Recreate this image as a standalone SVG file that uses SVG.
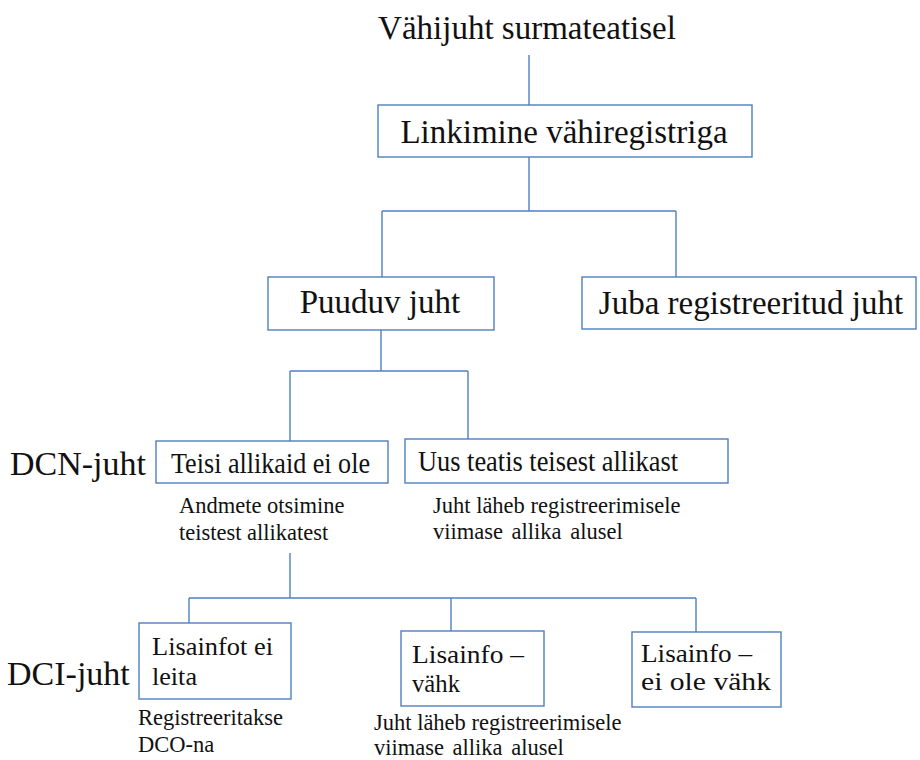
<svg xmlns="http://www.w3.org/2000/svg" width="920" height="760" viewBox="0 0 920 760">
<style>
.box{fill:#ffffff;stroke:#4f7fc1;stroke-width:1.4}
.con line{stroke:#4f7fc1;stroke-width:1.4}
text{font-family:"Liberation Serif","Times New Roman",serif;fill:#111111}
.big{font-size:33px}
.lbl{font-size:34px}
.bx{font-size:29px}
.bx2{font-size:26px}
.note{font-size:22.5px}
</style>
<rect width="920" height="760" fill="#ffffff"/>
<g id="connectors" class="con">
<line x1="529" y1="55" x2="529" y2="105"/>
<line x1="529" y1="157" x2="529" y2="211"/>
<line x1="382" y1="211" x2="676" y2="211"/>
<line x1="382" y1="211" x2="382" y2="277"/>
<line x1="676" y1="211" x2="676" y2="277"/>
<line x1="381" y1="330" x2="381" y2="371"/>
<line x1="290" y1="371" x2="468" y2="371"/>
<line x1="290" y1="371" x2="290" y2="441"/>
<line x1="468" y1="371" x2="468" y2="439"/>
<line x1="290" y1="553" x2="290" y2="598"/>
<line x1="189" y1="598" x2="696" y2="598"/>
<line x1="189" y1="598" x2="189" y2="623"/>
<line x1="451" y1="598" x2="451" y2="631"/>
<line x1="696" y1="598" x2="696" y2="632"/>
</g>
<g id="title">
<text class="big" x="527" y="39" text-anchor="middle">Vähijuht surmateatisel</text>
</g>
<g id="linkimine">
<rect class="box" x="378" y="105" width="374" height="52"/>
<text class="big" x="564" y="143" text-anchor="middle">Linkimine vähiregistriga</text>
</g>
<g id="puuduv">
<rect class="box" x="268" y="277" width="226" height="53"/>
<text class="big" x="380" y="313" text-anchor="middle">Puuduv juht</text>
</g>
<g id="juba">
<rect class="box" x="582" y="277" width="334" height="52"/>
<text class="big" x="751" y="314" text-anchor="middle">Juba registreeritud juht</text>
</g>
<g id="dcn-label">
<text class="lbl" x="10" y="475">DCN-juht</text>
</g>
<g id="teisi">
<rect class="box" x="156" y="441" width="232" height="42"/>
<text class="bx" x="171" y="473" textLength="199" lengthAdjust="spacingAndGlyphs">Teisi allikaid ei ole</text>
<text class="note" x="179" y="513">Andmete otsimine</text>
<text class="note" x="179" y="540">teistest allikatest</text>
</g>
<g id="uus">
<rect class="box" x="405" y="439" width="323" height="44"/>
<text class="bx" x="418" y="471" textLength="260" lengthAdjust="spacingAndGlyphs">Uus teatis teisest allikast</text>
<text class="note" x="433" y="513">Juht läheb registreerimisele</text>
<text class="note" x="433" y="539" word-spacing="3">viimase allika alusel</text>
</g>
<g id="dci-label">
<text class="lbl" x="7" y="685">DCI-juht</text>
</g>
<g id="lisainfot">
<rect class="box" x="139" y="623" width="152" height="76"/>
<text class="bx2" x="152" y="655" textLength="121" lengthAdjust="spacingAndGlyphs">Lisainfot ei</text>
<text class="bx2" x="152" y="685" textLength="45" lengthAdjust="spacingAndGlyphs">leita</text>
<text class="note" x="138" y="725">Registreeritakse</text>
<text class="note" x="138" y="752">DCO-na</text>
</g>
<g id="lisainfo-vahk">
<rect class="box" x="401" y="631" width="143" height="75"/>
<text class="bx2" x="412" y="663" textLength="112" lengthAdjust="spacingAndGlyphs">Lisainfo –</text>
<text class="bx2" x="412" y="692" textLength="48" lengthAdjust="spacingAndGlyphs">vähk</text>
<text class="note" x="374" y="730">Juht läheb registreerimisele</text>
<text class="note" x="374" y="755" word-spacing="3">viimase allika alusel</text>
</g>
<g id="lisainfo-ei-ole">
<rect class="box" x="632" y="632" width="149" height="75"/>
<text class="bx2" x="641" y="662" textLength="111" lengthAdjust="spacingAndGlyphs">Lisainfo –</text>
<text class="bx2" x="641" y="690" textLength="130" lengthAdjust="spacingAndGlyphs">ei ole vähk</text>
</g>
</svg>
